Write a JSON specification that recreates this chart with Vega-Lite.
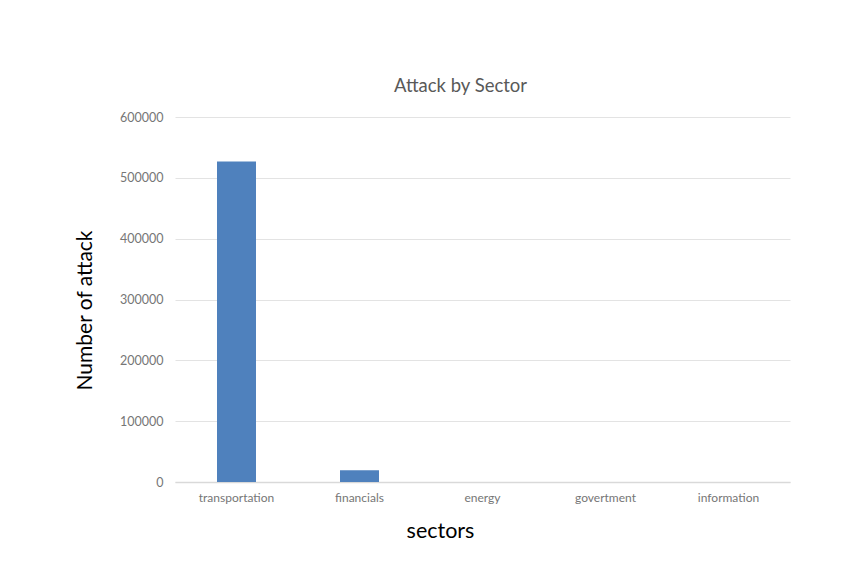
{
  "$schema": "https://vega.github.io/schema/vega-lite/v6.json",
  "width": 615,
  "height": 365,
  "autosize": {"type": "none"},
  "padding": {"left": 175, "top": 117, "right": 70, "bottom": 87},
  "background": "white",
  "title": {
    "text": "Attack by Sector",
    "font": "Lato",
    "fontSize": 18.5,
    "fontWeight": "normal",
    "color": "#595959",
    "anchor": "middle",
    "dx": -22,
    "offset": 1,
    "baseline": "alphabetic"
  },
  "data": {
    "values": [
      {"sector": "transportation", "attacks": 527000},
      {"sector": "financials", "attacks": 19500},
      {"sector": "energy", "attacks": 0},
      {"sector": "govertment", "attacks": 0},
      {"sector": "information", "attacks": 0}
    ]
  },
  "mark": {"type": "bar", "color": "#4f81bd"},
  "encoding": {
    "x": {
      "field": "sector",
      "type": "nominal",
      "sort": null,
      "scale": {"paddingInner": 0.683, "paddingOuter": 0.3415},
      "axis": {
        "title": "sectors",
        "titleFont": "Lato",
        "titleFontSize": 21.5,
        "titleFontWeight": "normal",
        "titleColor": "#000000",
        "titleX": 265,
        "titleY": 49,
        "titleBaseline": "middle",
        "labelAngle": 0,
        "labelFont": "Lato",
        "labelFontSize": 12,
        "labelColor": "#767676",
        "labelPadding": 10,
        "ticks": false,
        "domainColor": "#d9d9d9",
        "domainWidth": 1.5
      }
    },
    "y": {
      "field": "attacks",
      "type": "quantitative",
      "scale": {"domain": [0, 600000]},
      "axis": {
        "title": "Number of attack",
        "titleFont": "Lato",
        "titleFontSize": 21,
        "titleFontWeight": "normal",
        "titleColor": "#000000",
        "titleX": -90,
        "titleY": 193,
        "titleBaseline": "middle",
        "titleAlign": "center",
        "values": [0, 100000, 200000, 300000, 400000, 500000, 600000],
        "format": "d",
        "labelFont": "Lato",
        "labelFontSize": 12.5,
        "labelColor": "#767676",
        "labelPadding": 12,
        "ticks": false,
        "domain": false,
        "gridColor": "#e3e3e3",
        "gridWidth": 1.2
      }
    }
  },
  "config": {"view": {"stroke": null}}
}
